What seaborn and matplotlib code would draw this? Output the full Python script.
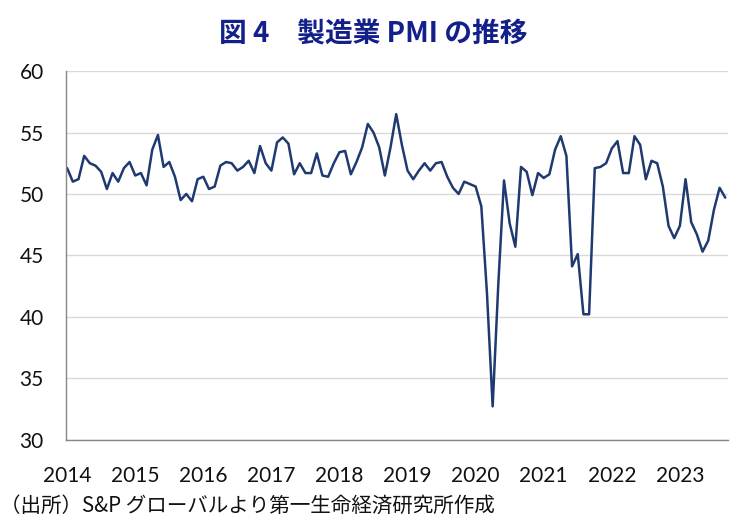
import matplotlib
matplotlib.use("Agg")
import matplotlib.pyplot as plt
import seaborn as sns
import pandas as pd
import numpy as np

# ---- data (Vietnam manufacturing PMI, monthly, Jan 2014 - Sep 2023) ----
pmi_2014 = [52.1, 51.0, 51.2, 53.1, 52.5, 52.3, 51.8, 50.4, 51.7, 51.0, 52.1, 52.6]
pmi_2015 = [51.5, 51.7, 50.7, 53.6, 54.8, 52.2, 52.6, 51.4, 49.5, 50.0, 49.4, 51.2]
pmi_2016 = [51.4, 50.4, 50.6, 52.3, 52.6, 52.5, 51.9, 52.2, 52.7, 51.7, 53.9, 52.5]
pmi_2017 = [51.9, 54.2, 54.6, 54.1, 51.6, 52.5, 51.7, 51.7, 53.3, 51.5, 51.4, 52.5]
pmi_2018 = [53.4, 53.5, 51.6, 52.6, 53.8, 55.7, 55.0, 53.8, 51.5, 53.8, 56.5, 54.0]
pmi_2019 = [51.9, 51.2, 51.9, 52.5, 51.9, 52.5, 52.6, 51.4, 50.5, 50.0, 51.0, 50.8]
pmi_2020 = [50.6, 49.0, 41.9, 32.7, 42.7, 51.1, 47.6, 45.7, 52.2, 51.8, 49.9, 51.7]
pmi_2021 = [51.3, 51.6, 53.6, 54.7, 53.1, 44.1, 45.1, 40.2, 40.2, 52.1, 52.2, 52.5]
pmi_2022 = [53.7, 54.3, 51.7, 51.7, 54.7, 54.0, 51.2, 52.7, 52.5, 50.6, 47.4, 46.4]
pmi_2023 = [47.4, 51.2, 47.7, 46.7, 45.3, 46.2, 48.7, 50.5, 49.7]

year_labels = ["2014", "2015", "2016", "2017", "2018", "2019", "2020", "2021", "2022", "2023"]
y_ticks = [30, 35, 40, 45, 50, 55, 60]

title = "図 4\u3000製造業 PMI の推移"
source = "（出所）S&P グローバルより第一生命経済研究所作成"

pmi = (pmi_2014 + pmi_2015 + pmi_2016 + pmi_2017 + pmi_2018 +
       pmi_2019 + pmi_2020 + pmi_2021 + pmi_2022 + pmi_2023)
df = pd.DataFrame({"month": np.arange(len(pmi)), "pmi": pmi})

# ---- style ----
sns.set_theme(style="white")
plt.rcParams["font.family"] = ["Noto Sans CJK JP", "DejaVu Sans"]

fig = plt.figure(figsize=(7.46, 5.27), dpi=100)
ax = fig.add_axes([0.0885, 0.166, 0.8875, 0.699])

sns.lineplot(data=df, x="month", y="pmi", ax=ax, color="#1f3a70", linewidth=1.8)

ax.set_ylim(30, 60)
ax.set_xlim(-0.2, len(pmi) - 0.5)
ax.set_yticks(y_ticks)
ax.set_yticklabels([str(v) for v in y_ticks], fontfamily="Lato", fontsize=15, color="#111111")
ax.set_xticks([12 * i for i in range(len(year_labels))])
ax.set_xticklabels(year_labels, fontfamily="Lato", fontsize=15, color="#111111")

ax.grid(axis="y", color="#d9d9d9", linewidth=1.0)
ax.grid(axis="x", visible=False)
ax.set_axisbelow(True)

for s in ["top", "right"]:
    ax.spines[s].set_visible(False)
for s in ["left", "bottom"]:
    ax.spines[s].set_color("#868686")
    ax.spines[s].set_linewidth(1.0)

ax.tick_params(axis="x", direction="in", length=5, width=1, color="#868686", pad=19)
ax.tick_params(axis="y", length=0, pad=16)
ax.set_xlabel("")
ax.set_ylabel("")

fig.text(0.5, 0.935, title, ha="center", va="center", fontsize=20,
         fontweight="bold", color="#14208a", family=["Noto Sans CJK JP", "DejaVu Sans"])
fig.text(0.0, 0.04, source, ha="left", va="center", fontsize=14.8,
         color="#111111", family=["Noto Sans CJK JP", "DejaVu Sans"])

fig.savefig("out.png", dpi=100)
